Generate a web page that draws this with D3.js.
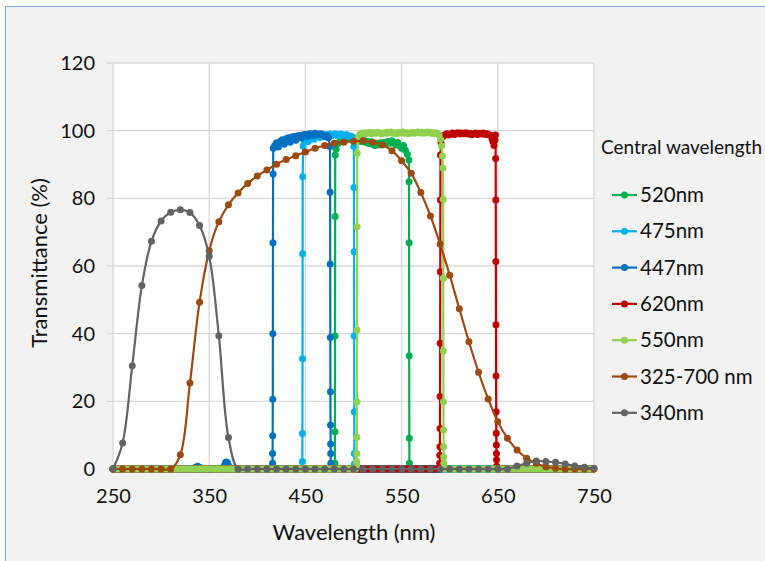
<!DOCTYPE html>
<html>
<head>
<meta charset="utf-8">
<script src="https://cdn.jsdelivr.net/npm/d3@7"></script>
<style>
  body { margin: 0; background: #fff; }
  svg { display: block; font-family: Lato, "Open Sans", sans-serif; }
</style>
</head>
<body>
<svg id="chart" width="765" height="561"></svg>
<script>
// ---- data ----
const xTicks = [250, 350, 450, 550, 650, 750];
const yTicks = [0, 20, 40, 60, 80, 100, 120];

const seriesNames = ["520nm", "475nm", "447nm", "620nm", "550nm", "325-700 nm", "340nm"];
const seriesColors = ["#00b050", "#00b0f0", "#0070c0", "#c00000", "#92d050", "#9c4a12", "#636363"];

// lamp spectra, sampled every 10 nm from 250 to 750
const lampWl = d3.range(250, 751, 10);
const lamp340 = [
  0, 7.7, 30.5, 54.2, 67.3, 73.3, 75.9, 76.6, 75.8, 72.0, 62.9, 39.4, 9.3, 0,
  0, 0, 0, 0, 0, 0, 0, 0, 0, 0, 0, 0, 0, 0, 0, 0, 0, 0, 0, 0, 0, 0, 0, 0, 0, 0, 0, 0,
  0.9, 1.7, 2.4, 2.2, 2.0, 1.5, 0.9, 0.5, 0.2
];
const lamp325to700 = [
  0, 0, 0, 0, 0, 0, 0,
  4.2, 25.4, 49.3, 64.5, 73.1, 78.1, 81.6, 84.4, 86.6, 88.4, 90.1, 91.5, 92.6, 93.7,
  94.8, 95.6, 96.3, 96.6, 96.9, 97.0, 96.6, 95.8, 94.1, 91.1, 87.4, 81.7, 74.8, 66.5,
  57.3, 47.4, 37.6, 28.6, 20.7, 14.0, 9.1, 5.6, 3.2, 1.7, 0.7, 0.2,
  0, 0, 0, 0
];

// filter scans: 2 nm step where the filter blocks (T = 0), pass band listed point by point
const scanStep = 2;

const pass520 = [
  [480.6, 1.7], [480.7, 11.0], [480.8, 39.3], [480.9, 74.6], [481.0, 92.8], [482, 94.5],
  [484, 96.2], [486, 97.0], [488, 97.6], [490, 97.2], [492, 98.0], [494, 98.3], [496, 97.8],
  [498, 98.2], [500, 97.9], [502, 97.4], [504, 97.8], [506, 97.1], [508, 96.8], [510, 97.3],
  [512, 96.6], [514, 96.9], [516, 96.2], [518, 96.7], [520, 96.0], [522, 95.6], [524, 96.3],
  [526, 95.8], [528, 96.4], [530, 96.0], [532, 96.6], [534, 96.2], [536, 96.8], [538, 96.3],
  [540, 97.0], [542, 96.4], [544, 95.8], [546, 96.5], [548, 95.5], [550, 94.8], [552, 95.6],
  [554, 94.2], [556, 93.0], [557.6, 91.3], [557.7, 84.9], [557.8, 66.9], [557.9, 33.5],
  [558.0, 9.1], [558.1, 1.7]
];
const blocked520 = [[250, 480.4], [558.3, 750]];

const pass475 = [
  [446.8, 2.2], [446.9, 10.5], [447.0, 32.6], [447.1, 63.6], [447.2, 86.4], [447.6, 95.5],
  [449, 97.0], [451, 97.6], [453, 96.8], [455, 98.0], [457, 98.3], [459, 97.5], [461, 98.4],
  [463, 98.6], [465, 98.0], [467, 98.7], [469, 98.9], [471, 98.2], [473, 98.8], [475, 99.0],
  [477, 98.5], [479, 98.9], [481, 99.1], [483, 98.6], [485, 98.8], [487, 99.0], [489, 98.4],
  [491, 98.7], [493, 98.8], [495, 98.1], [497, 98.4], [499, 97.8], [500.4, 95.3], [500.5, 83.2],
  [500.6, 64.2], [500.7, 39.3], [500.8, 16.9], [500.9, 4.6], [501.0, 1.5]
];
const blocked475 = [[250, 446.6], [501.2, 750]];

const pass447 = [
  [334, 0.1], [336, 0.5], [338, 0.8], [340, 0.5], [342, 0.1],
  [364, 0.2], [366, 1.2], [367, 1.9], [368, 2.1], [369, 1.8], [370, 1.0], [372, 0.2],
  [415.8, 1.7], [415.9, 4.6], [416.0, 9.8], [416.1, 20.6], [416.2, 40.0], [416.3, 66.9],
  [416.4, 87.2], [416.6, 94.8], [418, 95.6], [420, 96.4], [422, 95.2], [424, 96.9], [426, 97.3],
  [428, 96.0], [430, 97.6], [432, 97.9], [434, 96.6], [436, 98.1], [438, 98.3], [440, 97.2],
  [442, 98.5], [444, 98.6], [446, 97.8], [448, 98.8], [450, 98.9], [452, 98.3], [454, 99.1],
  [456, 99.0], [458, 98.6], [460, 99.2], [462, 99.0], [464, 98.7], [466, 99.1], [468, 98.8],
  [470, 98.3], [472, 98.6], [474, 97.9], [475.6, 95.3], [475.7, 81.8], [475.8, 60.6],
  [475.9, 38.9], [476.0, 22.8], [476.1, 13.0], [476.2, 7.4], [476.3, 4.6], [476.4, 1.7]
];
const blocked447 = [[250, 333], [343, 363], [373, 415.6], [476.6, 750]];

const pass620 = [
  [589.6, 1.7], [589.7, 4.1], [589.8, 6.6], [589.9, 12.0], [590.0, 21.4], [590.1, 37.2],
  [590.2, 58.3], [590.3, 79.5], [590.4, 92.8], [591, 96.5], [593, 98.3], [595, 98.8], [597, 99.1],
  [599, 98.7], [601, 99.0], [603, 99.3], [605, 98.9], [607, 99.2], [609, 99.4], [611, 99.0],
  [613, 99.3], [615, 99.1], [617, 99.4], [619, 99.0], [621, 99.2], [623, 98.8], [625, 99.1],
  [627, 99.3], [629, 98.9], [631, 99.2], [633, 99.0], [635, 99.3], [637, 98.9], [639, 99.1],
  [641, 98.8], [643, 98.6], [644, 97.6], [645, 96.8], [646, 95.6], [647, 97.2], [647.6, 98.7],
  [647.8, 91.8], [647.9, 79.5], [648.0, 61.3], [648.1, 42.6], [648.2, 27.5], [648.3, 16.9],
  [648.4, 10.6], [648.5, 7.1], [648.6, 4.6], [648.7, 2.7], [648.8, 0.8]
];
const blocked620 = [[250, 589.4], [649, 750]];

const pass550 = [
  [503.2, 1.0], [503.3, 2.2], [503.4, 4.6], [503.5, 9.4], [503.6, 19.9], [503.7, 41.1],
  [503.8, 71.6], [503.9, 93.3], [505, 98.0], [507, 99.0], [509, 99.3], [511, 99.0], [513, 99.4],
  [515, 99.2], [517, 99.5], [519, 99.1], [521, 99.4], [523, 99.2], [525, 99.5], [527, 99.3],
  [529, 99.0], [531, 99.4], [533, 99.2], [535, 99.5], [537, 99.3], [539, 99.6], [541, 99.2],
  [543, 99.4], [545, 99.1], [547, 99.5], [549, 99.3], [551, 99.6], [553, 99.2], [555, 99.4],
  [557, 99.1], [559, 99.3], [561, 99.5], [563, 99.2], [565, 99.4], [567, 99.6], [569, 99.3],
  [571, 99.5], [573, 99.2], [575, 99.4], [577, 99.6], [579, 99.3], [581, 99.5], [583, 99.1],
  [585, 99.4], [587, 99.2], [589, 98.8], [590.5, 97.5], [591.5, 95.5], [592.5, 92.5],
  [593.0, 89.0], [593.2, 79.7], [593.3, 56.4], [593.4, 34.9], [593.5, 19.9], [593.6, 11.5],
  [593.7, 6.6], [593.8, 3.6], [593.9, 1.7]
];
const blocked550 = [[250, 503], [594.1, 750]];

// ---- build series ----
function filterScan(pass, blocked) {
  const zeros = blocked.flatMap(([a, b]) => d3.range(a, b + 0.001, scanStep).map(w => [w, 0]));
  return zeros.concat(pass).sort((p, q) => p[0] - q[0]);
}
const lampPoints = vals => lampWl.map((w, i) => [w, vals[i]]);

const series = [
  { pts: filterScan(pass520, blocked520), smooth: false },
  { pts: filterScan(pass475, blocked475), smooth: false },
  { pts: filterScan(pass447, blocked447), smooth: false },
  { pts: filterScan(pass620, blocked620), smooth: false },
  { pts: filterScan(pass550, blocked550), smooth: false },
  { pts: lampPoints(lamp325to700), smooth: true },
  { pts: lampPoints(lamp340), smooth: true }
].map((s, i) => ({ ...s, name: seriesNames[i], color: seriesColors[i] }));

// ---- layout ----
const svg = d3.select("#chart");
const plot = { left: 113, right: 594, top: 63, bottom: 469 };

svg.append("rect")
  .attr("x", 5.5).attr("y", 6.5)
  .attr("width", 800).attr("height", 600)
  .attr("fill", "#f2f2f2")
  .attr("stroke", "#7fa9da");

const x = d3.scaleLinear().domain([250, 750]).range([plot.left, plot.right]);
const y = d3.scaleLinear().domain([0, 120]).range([plot.bottom, plot.top]);

svg.append("rect")
  .attr("x", plot.left).attr("y", plot.top)
  .attr("width", plot.right - plot.left).attr("height", plot.bottom - plot.top)
  .attr("fill", "#fff");

// gridlines
const grid = svg.append("g").attr("stroke", "#d9d9d9").attr("stroke-width", 1.3);
grid.selectAll(".gy").data(yTicks).join("line")
  .attr("x1", plot.left - 6).attr("x2", plot.right)
  .attr("y1", d => y(d)).attr("y2", d => y(d));
grid.selectAll(".gx").data(xTicks).join("line")
  .attr("y1", plot.top).attr("y2", plot.bottom + 5)
  .attr("x1", d => x(d)).attr("x2", d => x(d));

// axes (labels only, lines drawn as grid)
const yAxis = svg.append("g")
  .attr("transform", `translate(${plot.left - 18},0)`)
  .call(d3.axisLeft(y).tickValues(yTicks).tickSize(0).tickPadding(0));
const xAxis = svg.append("g")
  .attr("transform", `translate(0,${plot.bottom + 20})`)
  .call(d3.axisBottom(x).tickValues(xTicks).tickSize(0).tickPadding(0));
[yAxis, xAxis].forEach(a => {
  a.select(".domain").remove();
  a.selectAll("text").attr("font-size", 20).attr("fill", "#111").attr("font-family", "Lato, sans-serif");
});
xAxis.selectAll("text").attr("dy", "0.71em");

svg.append("text")
  .attr("x", 354).attr("y", 540)
  .attr("text-anchor", "middle")
  .attr("font-size", 22).attr("fill", "#111")
  .text("Wavelength (nm)");

svg.append("text")
  .attr("transform", "translate(47,263) rotate(-90)")
  .attr("text-anchor", "middle")
  .attr("font-size", 22).attr("fill", "#111")
  .text("Transmittance  (%)");

// series
const lineLinear = d3.line().x(d => x(d[0])).y(d => y(d[1]));
const lineSmooth = d3.line().x(d => x(d[0])).y(d => y(d[1])).curve(d3.curveCatmullRom);

const marks = svg.append("g");
series.forEach(s => {
  const g = marks.append("g");
  g.append("path")
    .attr("d", (s.smooth ? lineSmooth : lineLinear)(s.pts))
    .attr("fill", "none")
    .attr("stroke", s.color)
    .attr("stroke-width", 2.2)
    .attr("stroke-linejoin", "round");
  g.selectAll("circle").data(s.pts).join("circle")
    .attr("cx", d => x(d[0]))
    .attr("cy", d => y(d[1]))
    .attr("r", 3.5)
    .attr("fill", s.color);
});

// legend
const legend = svg.append("g");
legend.append("text")
  .attr("x", 601).attr("y", 147)
  .attr("dy", "0.35em")
  .attr("font-size", 19).attr("fill", "#111")
  .text("Central wavelength");

const items = legend.selectAll(".item").data(series).join("g")
  .attr("transform", (d, i) => `translate(0,${195 + i * 36.3})`);
items.append("line")
  .attr("x1", 612).attr("x2", 637)
  .attr("stroke", d => d.color).attr("stroke-width", 2.2);
items.append("circle")
  .attr("cx", 624.5).attr("r", 3.5)
  .attr("fill", d => d.color);
items.append("text")
  .attr("x", 640).attr("dy", "0.35em")
  .attr("font-size", 20.5).attr("fill", "#111")
  .text(d => d.name);
</script>
</body>
</html>
